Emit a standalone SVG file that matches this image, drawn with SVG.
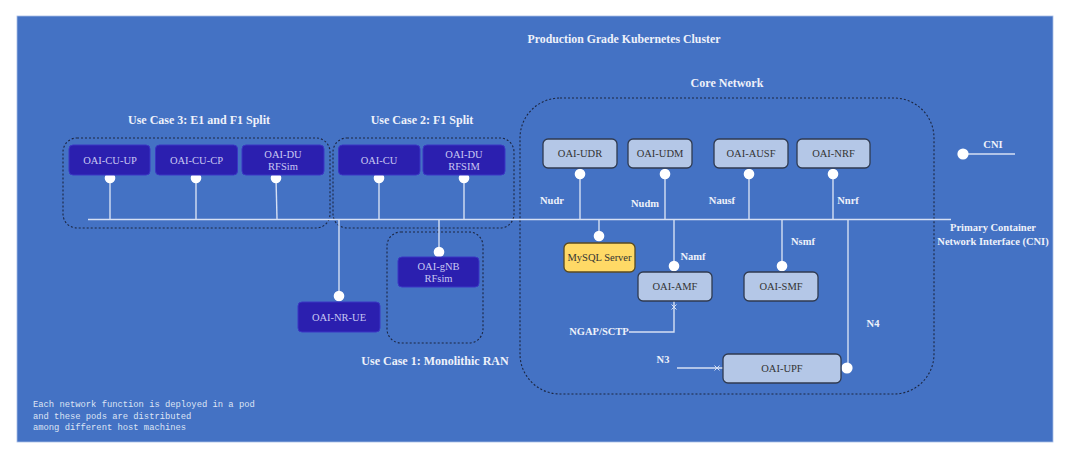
<svg xmlns="http://www.w3.org/2000/svg" width="1069" height="459" viewBox="0 0 1069 459">
<defs>
<style>
.lbl{font-family:"Liberation Serif",serif;font-weight:bold;font-size:10.5px;fill:#eef1fa;text-anchor:middle}
.glbl{font-family:"Liberation Serif",serif;font-weight:bold;font-size:12px;fill:#eef1fa;text-anchor:middle}
.title{font-family:"Liberation Serif",serif;font-weight:bold;font-size:11.8px;fill:#eef1fa;text-anchor:middle}
.dk rect{fill:#2B1FAF;stroke:#3a36c4;stroke-width:1}
.dk text{font-family:"Liberation Serif",serif;font-size:10.5px;fill:#c9c8f2;text-anchor:middle}
.lt rect{fill:#B4C7E7;stroke:#2f3a50;stroke-width:1.3}
.lt text{font-family:"Liberation Serif",serif;font-size:10.5px;fill:#333;text-anchor:middle}
.grp{fill:none;stroke:#1c2640;stroke-width:1.1;stroke-dasharray:2 2}
.ln{stroke:#d6e0f4;stroke-width:1.4;fill:none}
.dot{fill:#ffffff}
.mono{font-family:"Liberation Mono",monospace;font-size:8.8px;fill:#dde4f4}
.xm{stroke:#d6e0f4;stroke-width:1}
</style>
</defs>
<rect x="0" y="0" width="1069" height="459" fill="#ffffff"/>
<rect x="17" y="16" width="1036" height="426" fill="#4472C4" stroke="#a9bde6" stroke-width="0.8"/>

<text class="title" x="624" y="43">Production Grade Kubernetes Cluster</text>

<!-- groups -->
<g id="uc3-group">
<rect class="grp" x="63" y="138" width="267" height="90" rx="14"/>
<text class="glbl" x="199" y="124">Use Case 3: E1 and F1 Split</text>
</g>
<g id="uc2-group">
<rect class="grp" x="333" y="138" width="181" height="90" rx="14"/>
<text class="glbl" x="422" y="124">Use Case 2: F1 Split</text>
</g>
<g id="uc1-group">
<rect class="grp" x="387" y="232" width="96" height="111" rx="14"/>
<text class="glbl" x="435" y="365">Use Case 1: Monolithic RAN</text>
</g>
<g id="core-group">
<rect class="grp" x="520" y="98" width="414" height="296" rx="40"/>
<text class="glbl" x="727" y="87">Core Network</text>
</g>

<!-- connectors -->
<g id="connectors">
<line class="ln" x1="88" y1="219.5" x2="951" y2="219.5"/>
<line class="ln" x1="110" y1="178" x2="110" y2="219"/>
<line class="ln" x1="196" y1="178" x2="196" y2="219"/>
<line class="ln" x1="276" y1="178" x2="277" y2="219"/>
<line class="ln" x1="379" y1="178" x2="379" y2="219"/>
<line class="ln" x1="464" y1="178" x2="464" y2="219"/>
<line class="ln" x1="339" y1="220" x2="339" y2="296"/>
<line class="ln" x1="439" y1="220" x2="439" y2="252"/>
<line class="ln" x1="580" y1="174" x2="580" y2="219"/>
<line class="ln" x1="665" y1="174" x2="665" y2="219"/>
<line class="ln" x1="749" y1="174" x2="749" y2="219"/>
<line class="ln" x1="833" y1="174" x2="833" y2="219"/>
<line class="ln" x1="599" y1="220" x2="599" y2="236"/>
<line class="ln" x1="674" y1="220" x2="674" y2="266"/>
<line class="ln" x1="782" y1="220" x2="782" y2="266"/>
<line class="ln" x1="848" y1="220" x2="848" y2="368"/>
<polyline class="ln" points="674,301 674,332 629,332"/>
<line class="xm" x1="671.5" y1="304.5" x2="676.5" y2="309.5"/>
<line class="xm" x1="676.5" y1="304.5" x2="671.5" y2="309.5"/>
<line class="ln" x1="677" y1="368" x2="723" y2="368"/>
<line class="xm" x1="714.5" y1="365.5" x2="719.5" y2="370.5"/>
<line class="xm" x1="719.5" y1="365.5" x2="714.5" y2="370.5"/>
<line class="ln" x1="963" y1="154" x2="1015" y2="154"/>
<circle class="dot" cx="110" cy="178" r="5.3"/>
<circle class="dot" cx="196" cy="178" r="5.3"/>
<circle class="dot" cx="276" cy="178" r="5.3"/>
<circle class="dot" cx="379" cy="178" r="5.3"/>
<circle class="dot" cx="464" cy="178" r="5.3"/>
<circle class="dot" cx="339" cy="296" r="5.3"/>
<circle class="dot" cx="439" cy="252" r="5.3"/>
<circle class="dot" cx="580" cy="174" r="5.3"/>
<circle class="dot" cx="665" cy="174" r="5.3"/>
<circle class="dot" cx="749" cy="174" r="5.3"/>
<circle class="dot" cx="833" cy="174" r="5.3"/>
<circle class="dot" cx="599" cy="236" r="5.3"/>
<circle class="dot" cx="674" cy="266" r="5.3"/>
<circle class="dot" cx="782" cy="266" r="5.3"/>
<circle class="dot" cx="847" cy="368" r="5.6"/>
<circle class="dot" cx="963" cy="154" r="5.6"/>
<text class="lbl" x="552" y="204">Nudr</text>
<text class="lbl" x="645" y="207">Nudm</text>
<text class="lbl" x="722" y="204">Nausf</text>
<text class="lbl" x="848" y="204">Nnrf</text>
<text class="lbl" x="693" y="260">Namf</text>
<text class="lbl" x="803" y="245">Nsmf</text>
<text class="lbl" x="599" y="335">NGAP/SCTP</text>
<text class="lbl" x="663" y="363">N3</text>
<text class="lbl" x="873" y="327">N4</text>
<text class="lbl" x="993" y="148">CNI</text>
<text class="lbl" x="993" y="231">Primary Container</text>
<text class="lbl" x="993" y="245">Network Interface (CNI)</text>
</g>

<!-- RAN nodes -->
<g id="oai-cu-up" class="dk"><rect x="69" y="145" width="81" height="30" rx="4"/><text x="110" y="164">OAI-CU-UP</text></g>
<g id="oai-cu-cp" class="dk"><rect x="155.5" y="145" width="82" height="30" rx="4"/><text x="196.5" y="164">OAI-CU-CP</text></g>
<g id="oai-du-rfsim" class="dk"><rect x="242" y="145" width="82" height="30" rx="4"/><text x="283" y="158">OAI-DU</text><text x="283" y="170">RFSim</text></g>
<g id="oai-cu" class="dk"><rect x="338.5" y="145" width="81.5" height="30" rx="4"/><text x="379" y="164">OAI-CU</text></g>
<g id="oai-du-rfsim2" class="dk"><rect x="423" y="145" width="82" height="30" rx="4"/><text x="464" y="158">OAI-DU</text><text x="464" y="170">RFSIM</text></g>
<g id="oai-gnb" class="dk"><rect x="398" y="257" width="81" height="30" rx="4"/><text x="438.5" y="270">OAI-gNB</text><text x="438.5" y="282">RFsim</text></g>
<g id="oai-nr-ue" class="dk"><rect x="298" y="302" width="82" height="30" rx="4"/><text x="339" y="320.5">OAI-NR-UE</text></g>

<!-- core nodes -->
<g id="oai-udr" class="lt"><rect x="543" y="139" width="74" height="29" rx="5"/><text x="580" y="157">OAI-UDR</text></g>
<g id="oai-udm" class="lt"><rect x="628" y="139" width="64" height="29" rx="5"/><text x="660" y="157">OAI-UDM</text></g>
<g id="oai-ausf" class="lt"><rect x="714" y="139" width="74" height="29" rx="5"/><text x="751" y="157">OAI-AUSF</text></g>
<g id="oai-nrf" class="lt"><rect x="797" y="139" width="73" height="29" rx="5"/><text x="833.5" y="157">OAI-NRF</text></g>
<g id="mysql" class="lt"><rect x="564" y="243" width="71" height="29" rx="5" style="fill:#FFD966;stroke:#5a4a20"/><text x="599.5" y="261">MySQL Server</text></g>
<g id="oai-amf" class="lt"><rect x="638" y="272" width="74" height="29" rx="5"/><text x="675" y="290">OAI-AMF</text></g>
<g id="oai-smf" class="lt"><rect x="744" y="272" width="74" height="29" rx="5"/><text x="781" y="290">OAI-SMF</text></g>
<g id="oai-upf" class="lt"><rect x="723" y="354" width="118" height="29" rx="5"/><text x="782" y="372">OAI-UPF</text></g>

<g id="note">
<text class="mono" x="33" y="407">Each network function is deployed in a pod</text>
<text class="mono" x="33" y="419">and these pods are distributed</text>
<text class="mono" x="33" y="430">among different host machines</text>
</g>
</svg>
